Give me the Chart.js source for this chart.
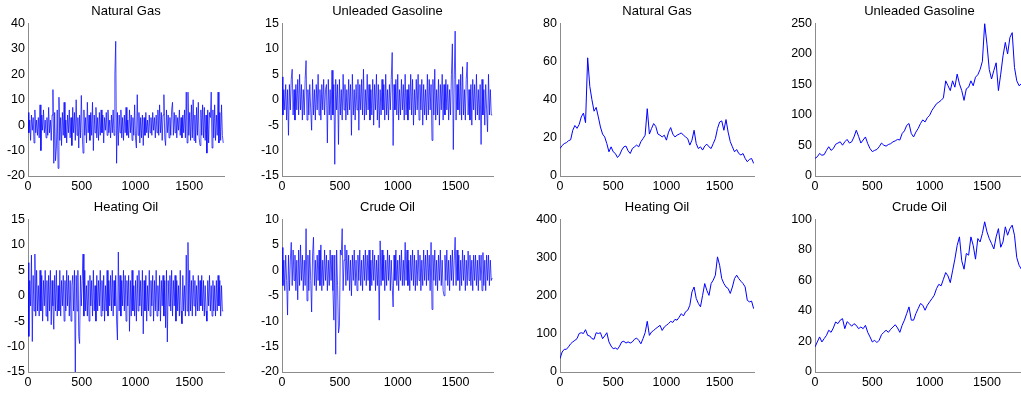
<!DOCTYPE html>
<html>
<head>
<meta charset="utf-8">
<script src="https://cdn.jsdelivr.net/npm/chart.js@4.4.0/dist/chart.umd.min.js"></script>
<style>
    body { margin: 0; width: 1021px; height: 394px; overflow: hidden; background: #fff; position: relative; font-family: "Liberation Sans", Arial, sans-serif; }
    .panel { position: absolute; }
    .title { position: absolute; font-size: 13px; line-height: 16px; text-align: center; color: #000; white-space: nowrap; }
</style>
</head>
<body>
<script>
// Sample spacing (days) and x axis
const xMax = 1823;
const returnStep = 8;
const priceStep = 20;
const xTicks = [0, 500, 1000, 1500];

// Daily returns (%)
const ngReturns = [
    5, -3, 2, -6, 4, -2, 3, -7, 6, -3, 2, -4,
    3, -5, 8, -10, 4, -2, 6, -3, 2, -5, 3, -4,
    7, -3, 2, -6, 4, 14, -15, 5, -14, -9, 6, -17,
    11, -6, 3, -8, 5, -4, 9, -5, 2, -7, 4, -3,
    6, -5, 3, -8, 7, -3, 5, -6, 10, -4, 3, -9,
    4, -5, 11.7, -3, -11, 6, -4, 3, -7, 9, -3, 4,
    -6, 5, -4, 9, -10, 4, -3, 7, -5, 3, -6, 5,
    -4, 6, -3, 4, -7, 3, -2, 5, -4, 6, -3, 2,
    -5, 4, -3, 6, -4, 20, 33, -15, 5, -8, 4, -3,
    6, -5, 3, -6, 4, -3, 7, -4, 2, -5, 6, -3,
    4, -6, 3, -4, 8, -5, -9, 12, -4, 5, -7, 3,
    -5, 4, -8, 3, -4, 5, -3, 2, -5, 4, -3, 3,
    -4, 5, -2, 3, -5, 4, -3, 6, -4, 8, -3, 5,
    -6, 4, 12, -5, -8, 6, -3, 4, -5, 3, -4, 6,
    9, -4, 5, -3, 4, -5, 3, -2, 6, -4, 3, -5,
    4, -3, 6, -5, 13, -7, 13, -4, 5, -6, 8, -5,
    10, -6, 4, -7, 7, -4, 9, -5, -8, 6, -4, 8,
    -5, 7, -6, 4, -11, 6, -7, 5, 3, 13, -9, 6,
    -5, 8, -6, 4, -4, 13, -7, 5, -6, 8, -4, -7
];
const ugReturns = [
    4.5, -3, 2, -2, 3, -4, 2, -7, 3, -2, 4, 6,
    -3, 2, -4, 3, -2, 4, -3, 5, -2, 3, -4, 2,
    -3, 4, 7.7, -4, 2, -3, 3, -2, -6, 4, -3, 2,
    -4, 3, -2, 5, -3, 2, -4, 3, -2, 4, -3, 2,
    3, -8.5, 4, -3, 2, -4, 5.8, -3, 3, -12.7, 4, -2,
    3, -8.8, 4, -3, 2, -4, 5, -2, 3, -4, 2, -3,
    4, -2, 3, -7, 5, -3, 2, -4, 3, -2, 4, -6,
    3, -2, 4, -3, 6, -4, 2, -3, 5, -2, 3, -4,
    2, -3, 4, -5, 3, -2, 5, -4, 3, -5.5, 2, -3,
    4, -2, 3, -4, 5, -3, 2, -4, 3, -2, 4, 9.3,
    -9, 3, -2, 4, -3, 5, -4, 2, -3, 4, -2, 3,
    -4, 5, -3, 2, -4, 3, -2, 5, -3, 4, -5, 2,
    -3, 4, -2, 5, -4, 3, -2, 4, -5, 3, -3, 2,
    -4, 5, -3, 4, -2, 3, -8, 4, -3, 6, -4, 2,
    -3, 4, -5, 3, -2, 5, -4, 3, -3, 4, -2, 3,
    -4, 2, -3, 5, 11, -9.8, 4, 13.5, -4, 3, -2, 4,
    -3, 5, -4, 6.5, -3, 2, -4, 4, 7.4, -3, 2, -4,
    3, -5, 4, -2, 3, -4, 5, -3, 2, -4, 3, -8.8,
    4, -3, 2, -5, 3, -2, -6.3, 5, -3, 2, -3, -3
];
const hoReturns = [
    6.5, -8, 3, -2, 8, -9, 4, -3, 8.2, -4, 5, -3,
    2, -4, 5, -3, 4, -5, 3, -2, 5, -4, 3, -5,
    4, -3, 5, -5.7, 3, -2, -6.6, 4, -3, 5, -4, 2,
    -3, 5, -4, 3, -2, 4, -5, 3, -3, 5, -2, 4,
    -4, 3, -5, 2, 4, -3, 5, -16, 4, -3, 5, -8,
    -9.4, 4, -2, 3, 8.2, -4, 5, -3, 2, -4, 3, -5,
    4, -2, 3, -4, 5, -3, 2, -5, 4, -3, 3, -2,
    5, -4, 3, -3, 4, -5, 2, -3, 5, -4, 3, -2,
    4, -3, 5, -4, 3, -2, 4, -5, -8.7, 8.6, -3, 4,
    -4, 3, -2, 5, -3, 4, -5, 3, -2, 4, -7, 3,
    -4, 5, -3, 2, -4, 3, -5, 4, -3, 5, -2, 3,
    -4, 5, -7.5, 3, -3, 4, -5, 2, -3, 5, -4, 3,
    -2, 4, -5, 3, -3, 5, -4, 2, -3, 4, -5, 3,
    -2, 4, -4, 3, -6.3, 5, -9.1, 3, -2, 4, -3, 5,
    -4, 3, -2, 4, -5, 3, -3, 2, -4, 5, -3, -5.5,
    4, -3, 2, -4, 8, -3, 10.5, -4, 5, -3, 3, -4,
    4, -2, 3, -4, 2, -3, 4, -3, 3, -2, 4, -3,
    3, -4, 2, -3, -5, 3, -2, 4, -3, 2, -4, 3,
    -3, 2, -4, 3, -3, 4, -2, 3, -4, 2, -3, -3
];
const coReturns = [
    4.5, -3, 2, -4, 3, -2, -8.8, 3, -4, 2, 5.5, -3,
    4, -2, 3, -4, 2, -5.8, 4, -3, 5, -2, 3, -4,
    2, -3, 8.2, -6, 3, -4, 4, -2, -8.2, 3, 6.5, -3,
    2, -4, 3, -2, 4, -3, 5, -4, 2, -3, 4, -2,
    3, -4, 2, -3, 4, -2, 3, -4, -9.8, 3, -16.5, 4,
    -3, -12.3, -11, 4, 3, 8.2, -4, 2, 5, -3, 4, -2,
    3, -4, 2, -5, 3, -2, 4, -3, 2, -4, 3, -2,
    4, -3, 2, -4, 3, -2, 4, -3, 3, -2, 4, -4,
    2, -3, 4, -2, 3, -4, 2, -3, 3, -9.8, 5.8, -3,
    4, -2, 3, -4, 2, -3, 4, -2, 3, -4, 2, -3,
    -7.2, 3, -2, 4, -3, 2, -4, 3, -2, 4, -3, 2,
    -3, 5.5, -2, 4, -3, 2, -4, 3, -2, 4, -3, 3,
    -4, 2, -3, 4, -2, 3, -4, 2, -3, 4, -2, 3,
    -3, 4, -2, 3, -4, 5.5, -7.7, 3, -2, 4, -3, 2,
    -4, 3, -2, 4, -3, 2, -4, -5, 3, -2, 4, -3,
    2, -4, 3, -2, 4, -3, 2, 6.5, -3, 4, -2, 3,
    -4, 2, -3, 4, -2, 3, -4, 2, -3, 3.8, -2, 3,
    -3, 2, -4, 3, -2, 3, -3, 2, -4, 3, -2, 3,
    -4, 3.5, -3, 2, -4, 3, -2, 3, -3, 2, -2, -1.5
];

// Prices
const ngPrice = [
    14.4, 16, 17, 17.5, 18.5, 19, 24, 26.5, 25, 27,
    31, 33, 28, 62, 47, 40, 34, 36, 31, 25.7,
    22, 20.5, 17, 12.7, 15.3, 12.7, 11.8, 9.7, 11, 13.6,
    15.3, 15.7, 13.2, 11.8, 14.4, 15.3, 16.2, 15.3, 18, 19.6,
    21.4, 35.3, 22, 24.9, 27.5, 26, 22, 21.4, 20.5, 21.4,
    18.8, 23, 25.4, 22, 20.5, 21.4, 22, 22.6, 21.4, 20.5,
    19.6, 16.2, 18.8, 24, 17, 14.4, 15.3, 13.6, 15.7, 16.7,
    15.3, 14.4, 17, 19.6, 24.9, 28.3, 28.9, 24, 29.6, 23,
    18, 15.3, 12.7, 13.9, 11.8, 11, 11.8, 9.2, 7.5, 8.7,
    9.2, 6.6
];
const ugPrice = [
    28.8, 31.5, 37, 34, 35, 42, 48, 42, 45, 52,
    54, 56, 50.5, 56, 60, 54, 56, 64, 75, 65,
    54, 59, 64, 53, 45, 40, 42, 43.5, 48, 54,
    50.5, 49, 51.6, 53, 56, 57.6, 60, 59, 69.6, 74,
    83, 86, 69.6, 64, 72, 78, 86, 92, 88.6, 95.6,
    99.5, 107.6, 113, 118.5, 121, 124, 128, 156, 148, 140,
    156, 145.6, 167, 151, 140, 124, 143, 145.6, 156, 148,
    162, 166, 174.5, 188, 250, 216, 174.5, 159, 173, 185.6,
    140, 167, 197, 219, 200, 227, 235, 178, 156, 148,
    151, 145
];
const hoPrice = [
    35, 52.5, 59.5, 59.5, 66, 74, 79, 83, 87.5, 101,
    103, 101, 111, 96, 94.5, 87.5, 86, 103, 101, 103,
    87.5, 94.5, 103, 79, 68, 61, 63, 59.5, 68, 79,
    80.5, 76, 79, 76, 79, 86, 89, 83, 74, 87.5,
    103, 133, 96, 105, 109, 114, 118, 122.5, 109, 118,
    122.5, 127, 133, 130, 138, 136, 144, 153, 147, 158,
    162, 175, 210, 223, 193, 180, 171, 201, 232, 214,
    201, 232, 241, 254, 302, 280, 245, 232, 223, 219,
    206, 223, 245, 254, 245, 238, 232, 223, 188, 184,
    186, 166
];
const coPrice = [
    16.4, 19.7, 23, 19.7, 21.9, 24, 27.4, 26, 28.9, 32.8,
    31.7, 34, 35, 28.4, 33, 31.7, 30, 31.7, 30.6, 28.4,
    29.5, 28.4, 30.6, 26, 23, 19.7, 20.8, 19.3, 20.8, 24.5,
    26, 27.4, 26, 28, 29.5, 31, 28.9, 26, 30.6, 34,
    38.3, 42.7, 34, 34, 38.3, 41.6, 44.9, 43.8, 40.5, 43.8,
    46, 48.1, 50.3, 54.7, 57.5, 56.5, 60.8, 65.2, 63, 58.6,
    66.3, 74, 83, 88.6, 72.9, 67.4, 77.7, 76.6, 88.6, 83,
    74, 87.5, 85.3, 90.8, 98.5, 91.9, 87.5, 84.2, 80.7, 88.6,
    94, 81.8, 85.3, 95.2, 89.7, 94, 96.3, 89.7, 75, 70,
    67.4, 67
];

// Y tick labels per panel
const ngReturnTicks = [-20, -10, 0, 10, 20, 30, 40];
const ugReturnTicks = [-15, -10, -5, 0, 5, 10, 15];
const hoReturnTicks = [-15, -10, -5, 0, 5, 10, 15];
const coReturnTicks = [-20, -15, -10, -5, 0, 5, 10];
const ngPriceTicks = [0, 20, 40, 60, 80];
const ugPriceTicks = [0, 50, 100, 150, 200, 250];
const hoPriceTicks = [0, 100, 200, 300, 400];
const coPriceTicks = [0, 20, 40, 60, 80, 100];

// layout: plot area [left, top, right, bottom] in page pixels
const panels = [
    { title: 'Natural Gas',        values: ngReturns, step: returnStep, ticks: ngReturnTicks, width: 0.7, box: [28, 23, 224, 176] },
    { title: 'Unleaded Gasoline',  values: ugReturns, step: returnStep, ticks: ugReturnTicks, width: 0.7, box: [282, 23, 493, 176] },
    { title: 'Natural Gas',        values: ngPrice,   step: priceStep,  ticks: ngPriceTicks,  width: 1,   box: [560, 23, 754, 176] },
    { title: 'Unleaded Gasoline',  values: ugPrice,   step: priceStep,  ticks: ugPriceTicks,  width: 1,   box: [815, 23, 1024, 176] },
    { title: 'Heating Oil',        values: hoReturns, step: returnStep, ticks: hoReturnTicks, width: 0.7, box: [28, 219, 224, 372] },
    { title: 'Crude Oil',          values: coReturns, step: returnStep, ticks: coReturnTicks, width: 0.7, box: [282, 219, 493, 372] },
    { title: 'Heating Oil',        values: hoPrice,   step: priceStep,  ticks: hoPriceTicks,  width: 1,   box: [560, 219, 754, 372] },
    { title: 'Crude Oil',          values: coPrice,   step: priceStep,  ticks: coPriceTicks,  width: 1,   box: [815, 219, 1024, 372] }
];

const Y_W = 40, X_H = 24, PAD_T = 10, PAD_R = 2;
const tickFont = { family: '"Liberation Sans", Arial, sans-serif', size: 12.5 };
const axisColor = '#8c8c8c';

panels.forEach(p => {
    const [l, t, r, b] = p.box;
    const wrap = document.createElement('div');
    wrap.className = 'panel';
    wrap.style.left = (l - Y_W) + 'px';
    wrap.style.top = (t - PAD_T) + 'px';
    const canvas = document.createElement('canvas');
    canvas.width = (r - l) + Y_W + PAD_R;
    canvas.height = (b - t) + PAD_T + X_H;
    wrap.appendChild(canvas);
    document.body.appendChild(wrap);

    const title = document.createElement('div');
    title.className = 'title';
    title.textContent = p.title;
    title.style.left = l + 'px';
    title.style.width = (r - l) + 'px';
    title.style.top = (t - 20) + 'px';
    document.body.appendChild(title);

    const pts = p.values.map((v, i) => ({ x: i * p.step, y: v }));
    const yTicks = p.ticks;

    new Chart(canvas, {
        type: 'line',
        data: {
            datasets: [{
                data: pts,
                borderColor: 'rgb(0, 0, 255)',
                borderWidth: p.width,
                pointRadius: 0,
                tension: 0,
                fill: false
            }]
        },
        options: {
            responsive: false,
            animation: false,
            devicePixelRatio: 1,
            layout: { padding: { top: PAD_T, right: PAD_R, left: 0, bottom: 0 } },
            plugins: { legend: { display: false }, tooltip: { enabled: false } },
            scales: {
                x: {
                    type: 'linear',
                    min: 0,
                    max: xMax,
                    afterFit: s => { s.height = X_H; },
                    afterBuildTicks: s => { s.ticks = xTicks.map(v => ({ value: v })); },
                    grid: { display: false, drawTicks: false },
                    border: { color: axisColor, width: 1 },
                    ticks: { color: '#000', font: tickFont, padding: 3, maxRotation: 0, autoSkip: false, callback: v => String(v) }
                },
                y: {
                    type: 'linear',
                    min: yTicks[0],
                    max: yTicks[yTicks.length - 1],
                    afterFit: s => { s.width = Y_W; },
                    afterBuildTicks: s => { s.ticks = yTicks.map(v => ({ value: v })); },
                    grid: { display: false, drawTicks: false },
                    border: { color: axisColor, width: 1 },
                    ticks: { color: '#000', font: tickFont, padding: 3, autoSkip: false, callback: v => String(v) }
                }
            }
        }
    });
});
</script>
</body>
</html>
